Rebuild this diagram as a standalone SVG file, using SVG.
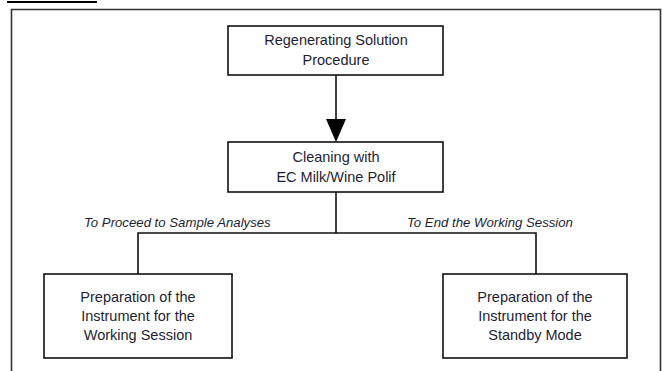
<svg xmlns="http://www.w3.org/2000/svg" width="662" height="371" viewBox="0 0 662 371">
<style>
.box{fill:#fff;stroke:#111;stroke-width:1.6}
.t{font-family:"Liberation Sans",Arial,sans-serif;font-size:14.5px;fill:#1e1e36;text-anchor:middle}
.lbl{font-family:"Liberation Sans",Arial,sans-serif;font-size:13.2px;font-style:italic;fill:#1e1e36}
.ln{fill:none;stroke:#111;stroke-width:1.6}
</style>
<rect width="662" height="371" fill="#fff"/>
<line x1="7" y1="2" x2="97" y2="2" stroke="#000" stroke-width="2"/>
<g id="frame"><path d="M11.5,380 V9.5 H660.5 V380" fill="none" stroke="#333" stroke-width="1.6"/></g>
<g id="connectors">
<line class="ln" x1="336" y1="75" x2="336" y2="119"/>
<path d="M326,119 L346,119 L336,142 Z" fill="#000"/>
<path class="ln" d="M336,192 V233"/>
<path class="ln" d="M138,274 V233 H536 V274"/>
<text class="lbl" x="84" y="227">To Proceed to Sample Analyses</text>
<text class="lbl" x="407" y="227">To End the Working Session</text>
</g>
<g id="n1">
<rect class="box" x="228" y="26" width="215" height="49"/>
<text class="t" x="336" y="45">Regenerating Solution</text>
<text class="t" x="336" y="65">Procedure</text>
</g>
<g id="n2">
<rect class="box" x="228" y="142" width="215" height="50"/>
<text class="t" x="336" y="162">Cleaning with</text>
<text class="t" x="336" y="182">EC Milk/Wine Polif</text>
</g>
<g id="n3">
<rect class="box" x="44" y="274" width="188" height="84"/>
<text class="t" x="138" y="302">Preparation of the</text>
<text class="t" x="138" y="321">Instrument for the</text>
<text class="t" x="138" y="340">Working Session</text>
</g>
<g id="n4">
<rect class="box" x="443" y="274" width="184" height="84"/>
<text class="t" x="535" y="302">Preparation of the</text>
<text class="t" x="535" y="321">Instrument for the</text>
<text class="t" x="535" y="340">Standby Mode</text>
</g>
</svg>
